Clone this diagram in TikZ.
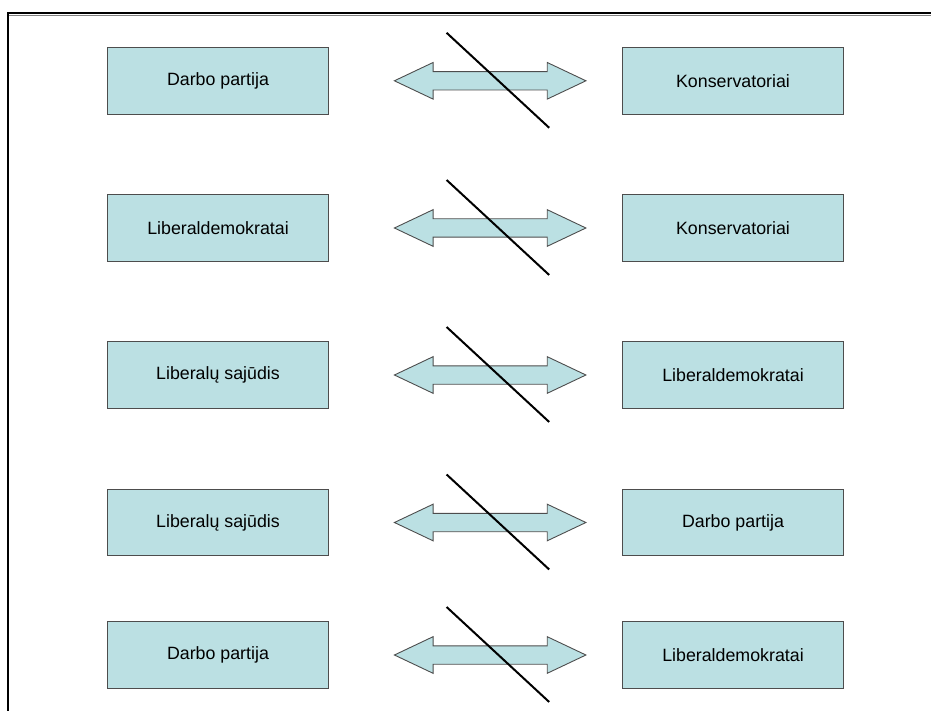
\documentclass[tikz,border=0pt]{standalone}
\usepackage{fontspec}
\setmainfont{Liberation Sans}
\usepackage{xcolor}
\usetikzlibrary{calc}
\definecolor{boxfill}{RGB}{187,224,227}
\definecolor{boxline}{RGB}{77,77,77}

\begin{document}
\begin{tikzpicture}[x=1pt,y=-1pt]
    \tikzstyle{party}=[draw=boxline, fill=boxfill, line width=0.9pt, minimum width=221pt, minimum height=66.5pt, inner sep=0pt, font=\fontsize{17.8}{20}\selectfont]
    \tikzstyle{dblarrow}=[draw=boxline, fill=boxfill, line width=0.9pt, line join=miter]
    \tikzstyle{cross}=[draw=black, line width=2pt]
    \useasboundingbox (0,0) rectangle (931,711);
    % frame
    \draw [line width=1.8pt] (7.9,711) -- (7.9,13.3) -- (931,13.3);
    \draw [gray, line width=1pt] (8.8,15.4) -- (931,15.4);

    \node [party] (L1) at (218, 80.8) {Darbo partija};
    \node [party] (R1) at (733, 80.8) {Konservatoriai};

    \node [party] (L2) at (218, 228) {Liberaldemokratai};
    \node [party] (R2) at (733, 228) {Konservatoriai};

    \node [party] (L3) at (218, 375) {Liberalų sajūdis};
    \node [party] (R3) at (733, 375) {Liberaldemokratai};

    \node [party] (L4) at (218, 522.5) {Liberalų sajūdis};
    \node [party] (R4) at (733, 522.5) {Darbo partija};

    \node [party] (L5) at (218, 655) {Darbo partija};
    \node [party] (R5) at (733, 655) {Liberaldemokratai};

    % crossed double arrows
    \foreach \n in {1,...,5} {
        \coordinate (m\n) at ($(L\n.east)!0.55!(R\n.west)$);
        \draw [dblarrow] ($(m\n)+(-95.75,0)$) -- ++(38.65,-18.3) -- ++(0,9.1) -- ++(114.2,0) -- ++(0,-9.1)
            -- ++(38.65,18.3) -- ++(-38.65,18.3) -- ++(0,-9.1) -- ++(-114.2,0) -- ++(0,9.1) -- cycle;
        \draw [cross] ($(m\n)+(-43.55,-48)$) -- ($(m\n)+(59.05,47)$);
    }
\end{tikzpicture}
\end{document}
